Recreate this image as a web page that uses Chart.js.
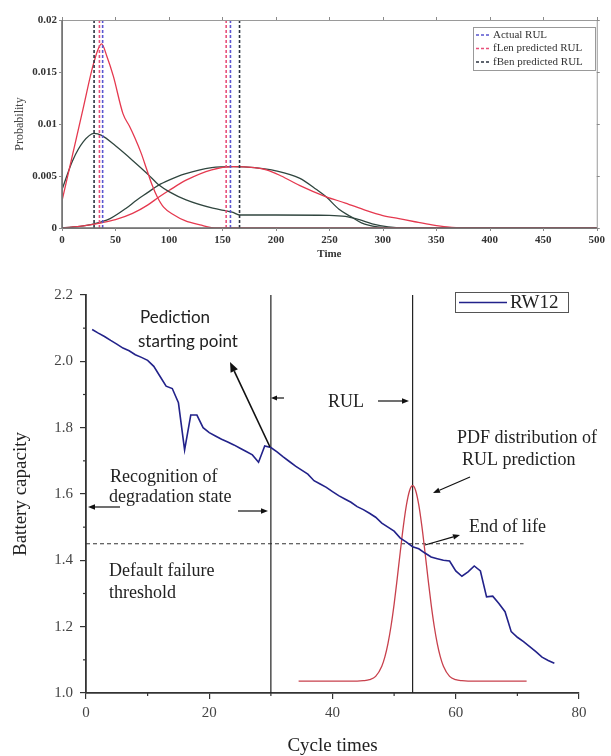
<!DOCTYPE html>
<html><head><meta charset="utf-8">
<script src="https://cdn.jsdelivr.net/npm/chart.js@4/dist/chart.umd.min.js"></script>
<style>
html,body{margin:0;padding:0;background:#fff;}
#top{position:absolute;left:0;top:0;width:611px;height:262px;}
#bot{position:absolute;left:0;top:262px;width:611px;height:494px;}
</style></head><body>
<div id="top"><canvas id="c1"></canvas></div>
<div id="bot"><canvas id="c2"></canvas></div>
<script>
// ---------- Top chart data (Probability vs Time) ----------
const probTickLabels = ['0', '0.005', '0.01', '0.015', '0.02'];
const lenNarrowT = [0, 10, 20, 30, 37, 42, 48, 57, 63, 68, 74, 79, 84, 89, 95, 104, 115, 129, 145, 500];
const lenNarrowP = [0.0026, 0.0071, 0.0116, 0.0160, 0.0177, 0.0165, 0.0146, 0.0110, 0.0098, 0.0087, 0.0072, 0.0057, 0.0042, 0.0030, 0.0020, 0.0013, 0.0007, 0.0003, 0.0000, 0.0000];
const benNarrowT = [0, 10, 20, 30, 37, 50, 66, 80, 91, 100, 116, 141, 160, 166, 200, 250, 265, 278, 290, 305, 320, 500];
const benNarrowP = [0.0037, 0.0065, 0.0083, 0.0091, 0.0089, 0.0079, 0.0065, 0.0052, 0.0041, 0.0035, 0.0027, 0.0019, 0.0015, 0.00125, 0.00125, 0.00122, 0.00112, 0.0008, 0.0004, 0.0001, 0.0000, 0.0000];
const benBroadT = [0, 20, 37, 45, 60, 70, 80, 90, 100, 115, 140, 160, 180, 200, 222, 238, 247, 259, 270, 280, 295, 310, 500];
const benBroadP = [0, 0.0002, 0.0006, 0.0009, 0.0019, 0.0027, 0.0034, 0.0041, 0.0046, 0.0052, 0.0058, 0.0059, 0.0058, 0.0055, 0.0048, 0.0037, 0.0030, 0.0018, 0.0011, 0.0005, 0.0001, 0, 0];
const lenBroadT = [0, 20, 37, 50, 66, 80, 91, 100, 116, 140, 160, 180, 191, 205, 222, 247, 265, 284, 300, 315, 330, 346, 360, 375, 500];
const lenBroadP = [0, 0.0002, 0.0005, 0.0008, 0.0014, 0.0022, 0.0030, 0.0036, 0.0046, 0.0056, 0.0059, 0.0058, 0.0056, 0.0050, 0.0041, 0.0030, 0.0024, 0.0017, 0.0012, 0.0009, 0.0006, 0.0003, 0.0001, 0, 0];
const actualRUL = [38, 157.5];
const lenRUL = [35, 153.5];
const benRUL = [30, 166];
const legendLabels = ['Actual RUL', 'fLen predicted RUL', 'fBen predicted RUL'];

// ---------- Bottom chart data (Battery capacity vs Cycle times) ----------
const cycles = [1,2,3,4,5,6,7,8,9,10,11,12,13,14,15,16,17,18,19,20,21,22,23,24,25,26,27,28,29,30,31,32,33,34,35,36,37,38,39,40,41,42,43,44,45,46,47,48,49,50,51,52,53,54,55,56,57,58,59,60,61,62,63,64,65,66,67,68,69,70,71,72,73,74,75,76];
const capacity = [2.096,2.085,2.075,2.063,2.052,2.040,2.032,2.020,2.012,2.003,1.985,1.955,1.925,1.918,1.875,1.733,1.838,1.838,1.800,1.785,1.775,1.765,1.757,1.748,1.738,1.728,1.718,1.696,1.745,1.740,1.727,1.712,1.698,1.684,1.672,1.660,1.640,1.630,1.620,1.607,1.595,1.585,1.575,1.562,1.553,1.542,1.530,1.512,1.500,1.488,1.467,1.455,1.441,1.435,1.422,1.410,1.405,1.400,1.398,1.368,1.352,1.365,1.383,1.368,1.290,1.292,1.270,1.245,1.185,1.168,1.155,1.140,1.125,1.108,1.098,1.090];
const pdfCycles = [34.5,44,45,46,47,48,48.5,49,49.5,50,50.5,51,51.5,52,52.5,53,53.5,54,54.5,55,55.5,56,56.5,57,57.5,58,59,60,61,62,71.5];
const pdfValues = [1.036,1.036,1.037,1.040,1.050,1.081,1.109,1.149,1.202,1.268,1.345,1.426,1.503,1.567,1.610,1.625,1.610,1.567,1.503,1.426,1.345,1.268,1.202,1.149,1.109,1.081,1.050,1.040,1.037,1.036,1.036];
const markerCycles = [30, 53];
const failureThreshold = 1.45;
const thresholdEndCycle = 71;
const capTickLabels = ['1.0','1.2','1.4','1.6','1.8','2.0','2.2'];
const seriesName = 'RW12';

Chart.defaults.font.family = '"Liberation Serif", "Times New Roman", serif';
Chart.defaults.color = '#333';

const xy = (t, p) => t.map((v, i) => ({x: v, y: p[i]}));
const vlines = (vals, lo, hi) => vals.flatMap(v => [{x: v, y: lo}, {x: v, y: hi}, {x: v, y: null}]);

function line(ctx, x1, y1, x2, y2) { ctx.beginPath(); ctx.moveTo(x1, y1); ctx.lineTo(x2, y2); ctx.stroke(); }
function arrow(ctx, x1, y1, x2, y2, hs, w) {
  ctx.save();
  ctx.strokeStyle = '#111'; ctx.fillStyle = '#111'; ctx.lineWidth = w;
  const a = Math.atan2(y2 - y1, x2 - x1);
  const bx = x2 - hs * Math.cos(a), by = y2 - hs * Math.sin(a);
  line(ctx, x1, y1, bx, by);
  ctx.beginPath();
  ctx.moveTo(x2, y2);
  ctx.lineTo(bx + hs * 0.4 * Math.sin(a), by - hs * 0.4 * Math.cos(a));
  ctx.lineTo(bx - hs * 0.4 * Math.sin(a), by + hs * 0.4 * Math.cos(a));
  ctx.closePath(); ctx.fill();
  ctx.restore();
}

const RED = '#e5394f', DARK = '#30463f';
const C_ACT = '#5a55d0', C_LEN = '#e8507a', C_BEN = '#2b3340';

const topDecor = {
  id: 'topDecor',
  afterDraw(chart) {
    const {ctx, chartArea: a, scales: {x, y}} = chart;
    ctx.save();
    ctx.strokeStyle = '#9a9a9a'; ctx.lineWidth = 1;
    ctx.strokeRect(a.left + 0.5, a.top + 0.5, a.right - a.left, a.bottom - a.top);
    ctx.strokeStyle = '#6a6a6a'; ctx.lineWidth = 1.5;
    line(ctx, a.left, a.bottom, a.right, a.bottom);
    line(ctx, a.left, a.top, a.left, a.bottom);
    ctx.strokeStyle = '#8a8a8a'; ctx.lineWidth = 1;
    x.ticks.forEach(t => { const px = Math.round(x.getPixelForValue(t.value)) + 0.5; line(ctx, px, a.top, px, a.top - 3); line(ctx, px, a.bottom, px, a.bottom + 3); });
    y.ticks.forEach(t => { const py = Math.round(y.getPixelForValue(t.value)) + 0.5; line(ctx, a.left, py, a.left - 3, py); line(ctx, a.right, py, a.right + 3, py); });
    // legend
    const bx = 473, by = 27, bw = 122, bh = 43;
    ctx.fillStyle = '#fff'; ctx.fillRect(bx, by, bw, bh);
    ctx.strokeStyle = '#999'; ctx.lineWidth = 1; ctx.strokeRect(bx + 0.5, by + 0.5, bw, bh);
    const cols = [C_ACT, C_LEN, C_BEN];
    const ys = [35, 48.5, 62];
    ctx.font = '11px "Liberation Serif"'; ctx.textBaseline = 'middle'; ctx.textAlign = 'left';
    legendLabels.forEach((lab, i) => {
      ctx.strokeStyle = cols[i]; ctx.lineWidth = 1.5; ctx.setLineDash([3, 2]);
      line(ctx, 476, ys[i], 489, ys[i]);
      ctx.setLineDash([]);
      ctx.fillStyle = '#333'; ctx.fillText(lab, 493, ys[i]);
    });
    ctx.restore();
  }
};

new Chart(document.getElementById('c1'), {
  type: 'line',
  data: {
    datasets: [
      {data: vlines(actualRUL, 0, 0.02), borderColor: C_ACT, borderWidth: 1.6, borderDash: [3, 2], pointRadius: 0, spanGaps: false},
      {data: vlines(lenRUL, 0, 0.02), borderColor: C_LEN, borderWidth: 1.6, borderDash: [3, 2], pointRadius: 0, spanGaps: false},
      {data: vlines(benRUL, 0, 0.02), borderColor: C_BEN, borderWidth: 1.6, borderDash: [3, 2], pointRadius: 0, spanGaps: false},
      {data: xy(lenNarrowT, lenNarrowP), borderColor: RED, borderWidth: 1.3, pointRadius: 0, cubicInterpolationMode: 'monotone'},
      {data: xy(benNarrowT, benNarrowP), borderColor: DARK, borderWidth: 1.3, pointRadius: 0, cubicInterpolationMode: 'monotone'},
      {data: xy(lenBroadT, lenBroadP), borderColor: RED, borderWidth: 1.3, pointRadius: 0, cubicInterpolationMode: 'monotone'},
      {data: xy(benBroadT, benBroadP), borderColor: DARK, borderWidth: 1.3, pointRadius: 0, cubicInterpolationMode: 'monotone'}
    ]
  },
  options: {
    responsive: true, maintainAspectRatio: false, animation: false, devicePixelRatio: 1,
    layout: {padding: {top: 20, right: 13, left: 0, bottom: 0}},
    plugins: {legend: {display: false}, tooltip: {enabled: false}},
    scales: {
      x: {type: 'linear', min: 0, max: 500,
        ticks: {stepSize: 50, padding: 6, font: {size: 11, weight: 'bold'}, color: '#333', maxRotation: 0},
        grid: {display: false, drawTicks: false, tickLength: 0}, border: {display: false},
        title: {display: true, text: 'Time', font: {size: 11, weight: 'bold', lineHeight: 1}, padding: {top: 0, bottom: 2}, color: '#333'},
        afterFit: s => { s.height = 34; }},
      y: {type: 'linear', min: 0, max: 0.02,
        ticks: {stepSize: 0.005, padding: 5, font: {size: 11, weight: 'bold'}, color: '#333', callback: (v, i) => probTickLabels[i]},
        grid: {display: false, drawTicks: false, tickLength: 0}, border: {display: false},
        title: {display: true, text: 'Probability', font: {size: 12, lineHeight: 1.2}, padding: {top: 13, bottom: 0}, color: '#444'},
        afterFit: s => { s.width = 62; }}
    }
  },
  plugins: [topDecor]
});

const botDecor = {
  id: 'botDecor',
  afterDraw(chart) {
    const {ctx, scales: {x, y}} = chart;
    ctx.save();
    ctx.strokeStyle = '#333'; ctx.lineWidth = 1.2;
    [10, 30, 50, 70].forEach(v => { const px = x.getPixelForValue(v); line(ctx, px, y.bottom, px, y.bottom + 3); });
    [1.1, 1.3, 1.5, 1.7, 1.9, 2.1].forEach(v => { const py = y.getPixelForValue(v); line(ctx, x.left - 3, py, x.left, py); });
    ctx.fillStyle = '#222'; ctx.textBaseline = 'middle'; ctx.textAlign = 'left';
    ctx.font = '17px Lato';
    ctx.fillText('Pediction', 140, 56);
    ctx.fillText('starting point', 138, 80);
    ctx.font = '18px "Liberation Serif"';
    ctx.fillText('Recognition of', 110, 215);
    ctx.fillText('degradation state', 109, 235);
    ctx.fillText('Default failure', 109, 309);
    ctx.fillText('threshold', 109, 331);
    ctx.fillText('RUL', 328, 140);
    ctx.fillText('PDF distribution of', 457, 176);
    ctx.fillText('RUL prediction', 462, 198);
    ctx.fillText('End of life', 469, 265);
    arrow(ctx, 270, 185, 230, 100, 10, 1.6);
    arrow(ctx, 284, 136, 271, 136, 6, 1.2);
    arrow(ctx, 378, 139, 409, 139, 7, 1.2);
    arrow(ctx, 120, 245, 88, 245, 7, 1.2);
    arrow(ctx, 238, 249, 268, 249, 7, 1.2);
    arrow(ctx, 470, 215, 433, 231, 7, 1.2);
    arrow(ctx, 425, 283, 460, 273, 7, 1.2);
    // legend box
    ctx.fillStyle = '#fff'; ctx.fillRect(455, 30, 113, 20);
    ctx.strokeStyle = '#555'; ctx.lineWidth = 1; ctx.strokeRect(455.5, 30.5, 113, 20);
    ctx.strokeStyle = '#22228a'; ctx.lineWidth = 1.6; line(ctx, 459, 40.5, 507, 40.5);
    ctx.fillStyle = '#222'; ctx.font = '19px "Liberation Serif"';
    ctx.fillText(seriesName, 510, 41);
    ctx.restore();
  }
};

new Chart(document.getElementById('c2'), {
  type: 'line',
  data: {
    datasets: [
      {label: seriesName, data: xy(cycles, capacity), borderColor: '#22228a', borderWidth: 1.6, pointRadius: 0, tension: 0},
      {data: xy(pdfCycles, pdfValues), borderColor: '#c8404c', borderWidth: 1.3, pointRadius: 0, cubicInterpolationMode: 'monotone'},
      {data: vlines(markerCycles, 1.0, 2.2), borderColor: '#222', borderWidth: 1.2, pointRadius: 0, spanGaps: false},
      {data: [{x: 0, y: failureThreshold}, {x: thresholdEndCycle, y: failureThreshold}], borderColor: '#333', borderWidth: 1, borderDash: [4, 3], pointRadius: 0}
    ]
  },
  options: {
    responsive: true, maintainAspectRatio: false, animation: false, devicePixelRatio: 1,
    layout: {padding: {top: 33, right: 32, left: 0, bottom: 0}},
    plugins: {legend: {display: false}, tooltip: {enabled: false}},
    scales: {
      x: {type: 'linear', min: 0, max: 80,
        ticks: {stepSize: 20, padding: 5, font: {size: 15}, color: '#444', maxRotation: 0},
        grid: {drawOnChartArea: false, drawTicks: true, tickLength: 6, color: '#333', lineWidth: 1.2},
        border: {display: true, color: '#333', width: 1.8},
        title: {display: true, text: 'Cycle times', font: {size: 19, lineHeight: 1}, padding: {top: 0, bottom: 0}, color: '#222'},
        afterFit: s => { s.height = 63; }},
      y: {type: 'linear', min: 1.0, max: 2.2,
        ticks: {stepSize: 0.2, padding: 7, font: {size: 15}, color: '#444', callback: (v, i) => capTickLabels[i]},
        grid: {drawOnChartArea: false, drawTicks: true, tickLength: 6, color: '#333', lineWidth: 1.2},
        border: {display: true, color: '#333', width: 1.8},
        title: {display: true, text: 'Battery capacity', font: {size: 19, lineHeight: 1.2}, padding: {top: 10, bottom: 0}, color: '#222'},
        afterFit: s => { s.width = 86; }}
    }
  },
  plugins: [botDecor]
});
</script>
</body></html>
